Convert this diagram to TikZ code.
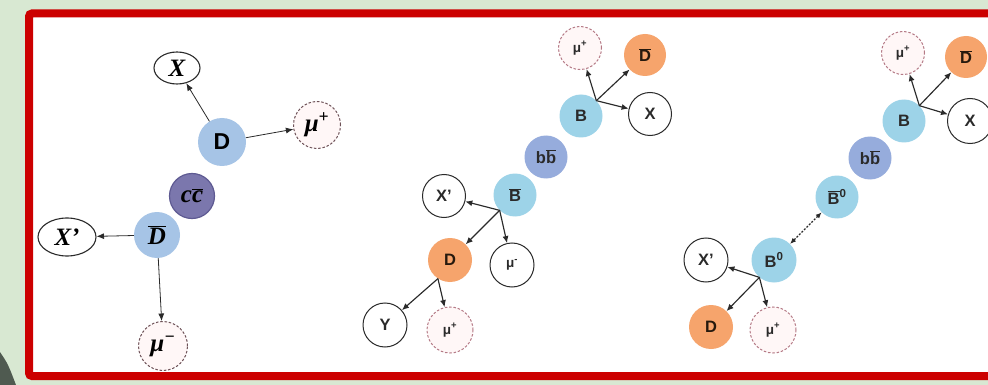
\documentclass[tikz,border=0pt]{standalone}
\usepackage{fontspec}
\setmainfont{Liberation Sans}
\newfontfamily\timesf{Liberation Serif}
\usetikzlibrary{arrows.meta,shapes.geometric}

\definecolor{bggreen}{HTML}{D8E8D2}
\definecolor{wedge}{HTML}{4F5A50}
\definecolor{framered}{HTML}{CC0000}
\definecolor{mesonA}{HTML}{A6C4E6}
\definecolor{mesonB}{HTML}{9DD3E8}
\definecolor{ccpair}{HTML}{7B77AD}
\definecolor{ccedge}{HTML}{5E5A92}
\definecolor{bbpair}{HTML}{96ACDC}
\definecolor{charm}{HTML}{F6A46C}
\definecolor{muonA}{HTML}{6E5258}
\definecolor{muonB}{HTML}{B57A86}
\definecolor{ink}{HTML}{2A2A2A}

\newcommand{\ovl}[1]{\ensuremath{\overline{\mbox{#1}}}}

\begin{document}
\begin{tikzpicture}[x=1pt,y=-1pt,
  ball/.style={circle,inner sep=0pt,minimum size=43pt,text=ink,
    font=\bfseries\fontsize{16.5}{16.5}\selectfont},
  blue2/.style={ball,fill=mesonB},
  orange/.style={ball,fill=charm,text=black!80!brown},
  bbball/.style={ball,fill=bbpair},
  outball/.style={ball,draw=ink,line width=1pt,fill=white},
  mufont/.style={font=\bfseries\fontsize{13.5}{13.5}\selectfont},
  muball/.style={ball,draw=muonB,dashed,dash pattern=on 2.5pt off 1.8pt,
    line width=1pt,fill=red!3,mufont},
  serifbig/.style={font=\timesf\bfseries\itshape\fontsize{25}{25}\selectfont,text=black},
  oval/.style={ellipse,draw=ink,line width=1.1pt,fill=white,inner sep=0pt,serifbig},
  mu1/.style={circle,inner sep=0pt,minimum size=47pt,draw=muonA,dashed,
    dash pattern=on 2.5pt off 1.8pt,line width=1pt,fill=red!3,serifbig},
  arr/.style={-{Latex[length=7pt,width=6pt]},line width=1.15pt,draw=ink},
  arr1/.style={-{Latex[length=7.5pt,width=6pt]},line width=0.8pt,draw=ink}
]
\useasboundingbox (0,0) rectangle (988,385);
\clip (0,0) rectangle (988,385);

% page background, corner shape and red frame
\fill[bggreen] (0,0) rectangle (988,385);
\fill[wedge] (0,352) .. controls (8,364) .. (16,385) -- (0,385) -- cycle;
\draw[framered,line width=8pt,fill=white,rounded corners=3pt] (29,13.5) rectangle (1010,376);

% ---------- charm pair ----------
\node[oval,minimum width=46pt,minimum height=32pt] (aX) at (177,68) {X};
\node[ball,fill=mesonA,minimum size=48pt,text=black,
  font=\bfseries\fontsize{23}{23}\selectfont] (aD) at (222,142) {D};
\node[circle,inner sep=0pt,minimum size=45pt,fill=ccpair,draw=ccedge,line width=1.2pt,
  serifbig] (acc) at (192,196) {c\ovl{c}};
\node[circle,inner sep=0pt,minimum size=46pt,fill=mesonA,serifbig] (aDb) at (157,235) {\ovl{D}};
\node[oval,minimum width=58pt,minimum height=38pt] (aXp) at (67,237) {X\textquoteright};
\node[mu1] (amup) at (317,125) {μ\textsuperscript{+}};
\node[mu1,minimum size=49pt] (amum) at (163,346) {μ\textsuperscript{−}};

\draw[arr1] (aD) -- (aX);
\draw[arr1] (aD) -- (amup);
\draw[arr1] (aDb) -- (aXp);
\draw[arr1] (aDb) -- (amum);

% ---------- beauty pair, charged ----------
\node[muball] (bmupT) at (580,48) {μ\textsuperscript{+}};
\node[orange,minimum size=42pt] (bDb) at (645,55) {\ovl{D}};
\node[blue2] (bB) at (581,116) {B};
\node[outball] (bX) at (650,114) {X};
\node[bbball] (bbb) at (546,157) {b\ovl{b}};
\node[blue2] (bBb) at (515,195) {\ovl{B}};
\node[outball] (bXp) at (444,196) {X\textquoteright};
\node[orange,minimum size=44pt] (bD) at (450,260) {D};
\node[outball,minimum size=44pt,mufont] (bmum) at (512,265) {μ\textsuperscript{-}};
\node[outball,minimum size=44pt] (bY) at (385,325) {Y};
\node[muball,minimum size=46pt] (bmupB) at (450,330) {μ\textsuperscript{+}};

\coordinate (bv1) at (bB.45);
\coordinate (bv2) at (bBb.225);
\coordinate (bv3) at (bD.237);
\draw[arr] (bv1) -- (bmupT);
\draw[arr] (bv1) -- (bDb);
\draw[arr] (bv1) -- (bX);
\draw[arr] (bv2) -- (bXp);
\draw[arr] (bv2) -- (bD);
\draw[arr] (bv2) -- (bmum);
\draw[arr] (bv3) -- (bY);
\draw[arr] (bv3) -- (bmupB);

% ---------- beauty pair, neutral with mixing ----------
\node[muball] (cmupT) at (903,53) {μ\textsuperscript{+}};
\node[orange,minimum size=42pt] (cDb) at (966,57) {\ovl{D}};
\node[blue2] (cB) at (904,121) {B};
\node[outball,minimum size=45pt] (cX) at (970,121) {X};
\node[bbball] (cbb) at (870,158) {b\ovl{b}};
\node[blue2] (cBb) at (837,197) {\ovl{B}\textsuperscript{0}};
\node[blue2,minimum size=45pt] (cB0) at (774,260) {B\textsuperscript{0}};
\node[outball,minimum size=44pt] (cXp) at (706,260) {X\textquoteright};
\node[orange,minimum size=44pt] (cD) at (711,327) {D};
\node[muball,minimum size=46pt] (cmupB) at (773,330) {μ\textsuperscript{+}};

\coordinate (cv1) at (cB.45);
\coordinate (cv2) at (cB0.230);
\draw[arr] (cv1) -- (cmupT);
\draw[arr] (cv1) -- (cDb);
\draw[arr] (cv1) -- (cX);
\draw[arr,{Latex[length=6pt,width=5pt]}-{Latex[length=6pt,width=5pt]},
  dash pattern=on 2pt off 1.5pt] (cBb) -- (cB0);
\draw[arr] (cv2) -- (cXp);
\draw[arr] (cv2) -- (cD);
\draw[arr] (cv2) -- (cmupB);
\end{tikzpicture}
\end{document}
